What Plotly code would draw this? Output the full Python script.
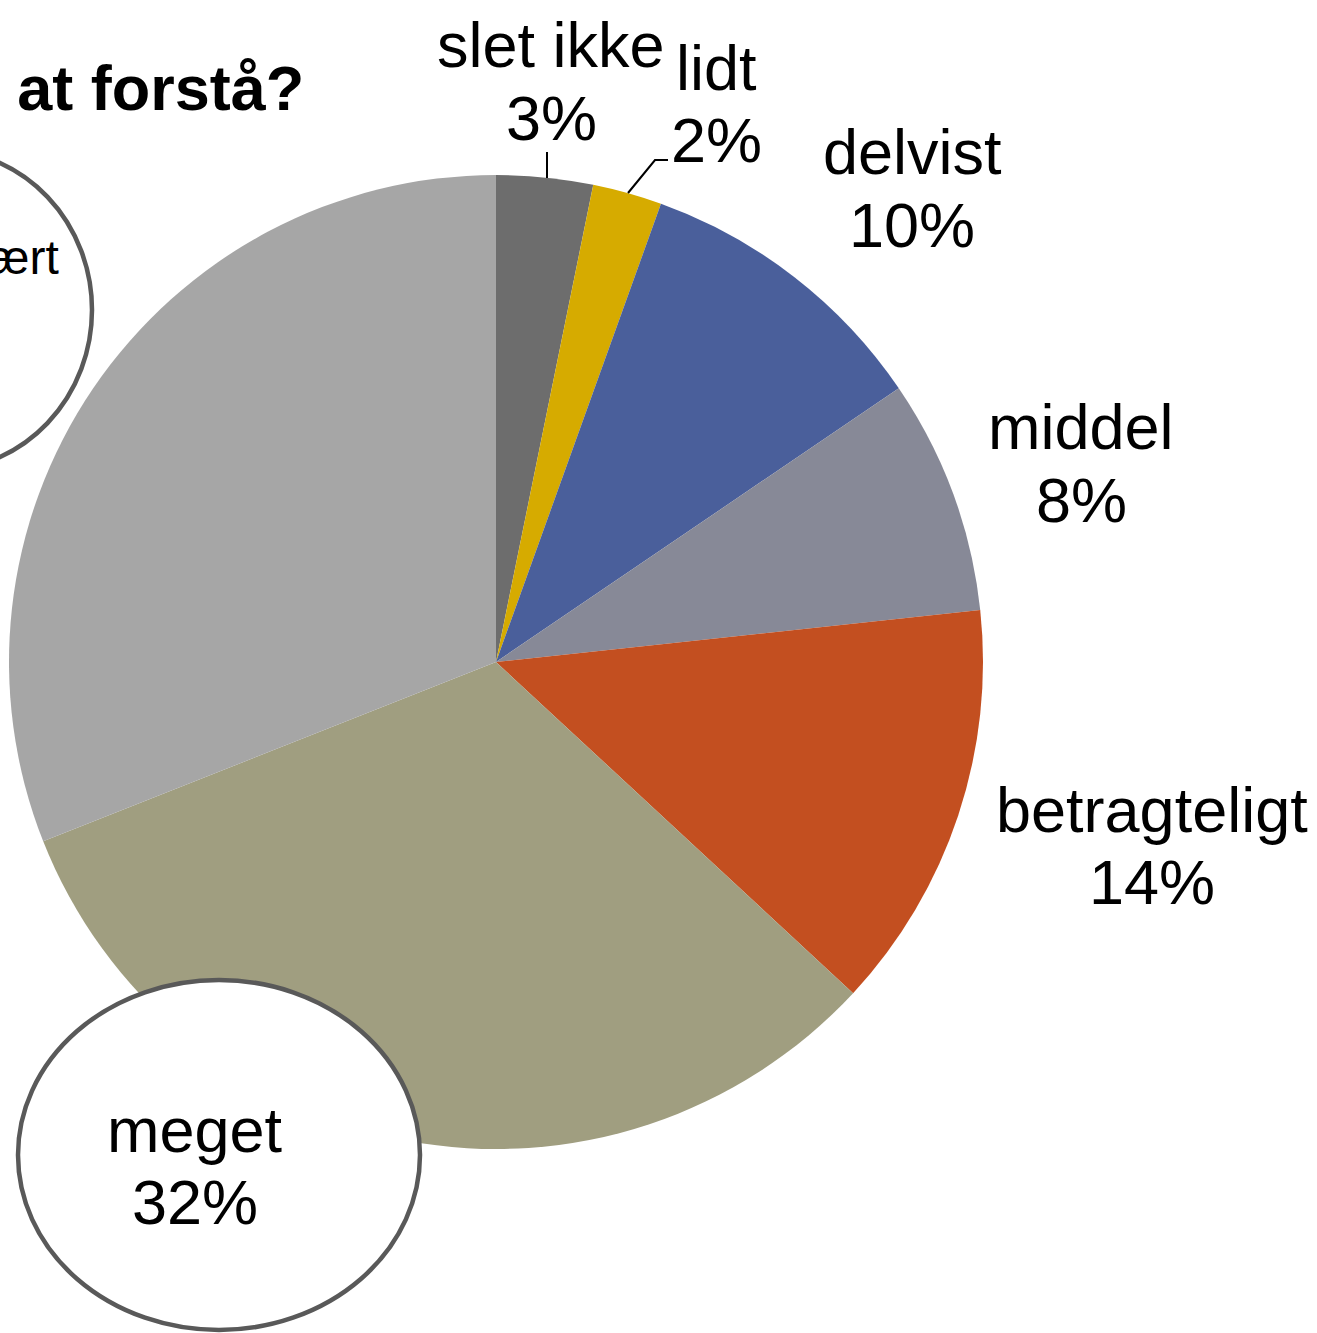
import plotly.graph_objects as go

W, H = 1317, 1333

# slice order: clockwise from 12 o'clock
labels = ['slet ikke', 'lidt', 'delvist', 'middel', 'betragteligt', 'meget', 'særdeles svært']
shares = [3.2, 2.3, 10.0, 7.8, 13.6, 32.1, 31.0]
colors = ['#6d6d6d', '#d6ab00', '#4a5f9b', '#878997', '#c34f20', '#a09e80', '#a6a6a6']

title_text = '<b>Hvor svært var det at forstå?</b>'

FONT = 'Liberation Sans, Arial, sans-serif'

# pie placement (pixels): centre and radius
cx, cy, r = 496, 662, 487

fig = go.Figure()
fig.add_trace(go.Pie(
    labels=labels,
    values=shares,
    sort=False,
    direction='clockwise',
    rotation=0,
    marker=dict(colors=colors, line=dict(width=0)),
    textinfo='none',
    hoverinfo='label+percent',
    showlegend=False,
    domain=dict(x=[(cx - r) / W, (cx + r) / W], y=[(H - cy - r) / H, (H - cy + r) / H]),
))

total = sum(shares)
pct = {lab: f'{round(v / total * 100)}%' for lab, v in zip(labels, shares)}

# label anchor points (pixels): x centre, name line centre, percent line centre
label_pos = {
    'slet ikke': (551, 45, 118),
    'lidt': (716, 68, 140),
    'delvist': (912, 152, 225),
    'middel': (1081, 427, 500),
    'betragteligt': (1152, 810, 882),
    'meget': (195, 1130, 1202),
}

# circled callouts
fig.add_shape(type='circle', xref='x', yref='y', x0=-212, x1=92, y0=150, y1=470,
              line=dict(color='#595959', width=4.5), fillcolor='white', layer='above')
fig.add_shape(type='circle', xref='x', yref='y', x0=18, x1=420, y0=980, y1=1330,
              line=dict(color='#595959', width=4.5), fillcolor='white', layer='above')

# leader lines
fig.add_shape(type='line', xref='x', yref='y', x0=547, y0=178, x1=547, y1=152,
              line=dict(color='black', width=2))
fig.add_shape(type='path', xref='x', yref='y', path='M 628 193 L 655 160 L 668 160',
              line=dict(color='black', width=2))

for lab, (x, y1, y2) in label_pos.items():
    fig.add_annotation(x=x, y=y1, xref='x', yref='y', text=lab, showarrow=False,
                       xanchor='center', yanchor='middle', font=dict(size=63, color='black', family=FONT))
    fig.add_annotation(x=x, y=y2, xref='x', yref='y', text=pct[lab], showarrow=False,
                       xanchor='center', yanchor='middle', font=dict(size=63, color='black', family=FONT))

# cropped label in the upper-left circle
fig.add_annotation(x=61, y=257, xref='x', yref='y', text=labels[-1], showarrow=False,
                   xanchor='right', yanchor='middle', font=dict(size=48, color='black', family=FONT))

# cropped title
fig.add_annotation(x=306, y=88, xref='x', yref='y', text=title_text, showarrow=False,
                   xanchor='right', yanchor='middle', font=dict(size=63, color='black', family=FONT))

fig.update_layout(
    width=W, height=H,
    margin=dict(l=0, r=0, t=0, b=0),
    paper_bgcolor='white', plot_bgcolor='rgba(0,0,0,0)',
    font=dict(family=FONT, color='black'),
    xaxis=dict(range=[0, W], visible=False, fixedrange=True),
    yaxis=dict(range=[H, 0], visible=False, fixedrange=True),
)

# drop the default page margin so the figure sits flush with the window
fig.write_html(
    'out.html',
    config=dict(displayModeBar=False),
    post_script="document.body.style.margin='0';document.body.style.overflow='hidden';",
)
